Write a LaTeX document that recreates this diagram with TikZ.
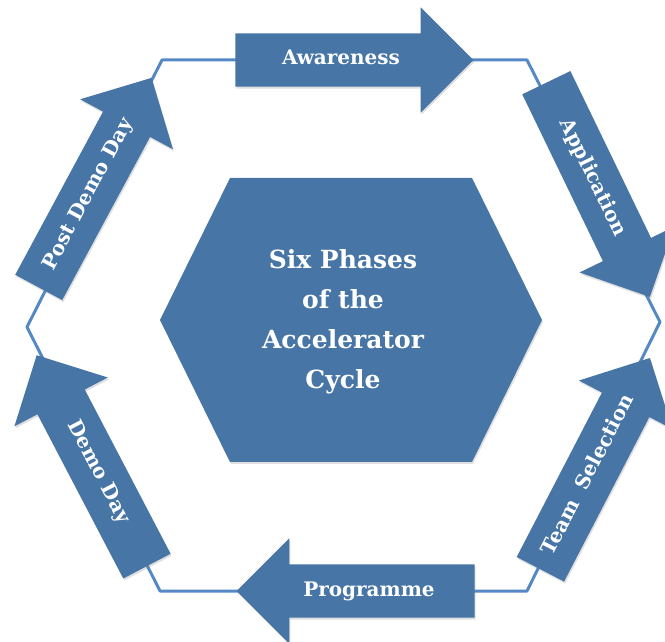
\documentclass[tikz,border=0pt]{standalone}
\usepackage{fontspec}
\setmainfont{DejaVu Serif}
\usetikzlibrary{shapes.arrows,shadows}
\definecolor{phaseblue}{RGB}{70,117,166}
\definecolor{ringblue}{RGB}{84,137,198}
\tikzset{
  phase/.style={single arrow, fill=phaseblue, text=white,
    font=\bfseries\fontsize{20}{24}\selectfont,
    minimum height=238pt, single arrow head extend=26pt,
    text height=14pt, text depth=4pt, inner ysep=17.5pt, inner xsep=0pt,
    drop shadow={shadow xshift=1pt,shadow yshift=-2pt,opacity=.25}},
  back/.style={shape border rotate=180},
}
\begin{document}
\begin{tikzpicture}[x=1pt,y=1pt]
\useasboundingbox (0,0) rectangle (665,641);
% ring the phases run along
\coordinate (r1) at (162,581);
\coordinate (r2) at (527,581);
\coordinate (r3) at (660,319);
\coordinate (r4) at (527,50);
\coordinate (r5) at (160,50);
\coordinate (r6) at (27,314);
\draw[ringblue,line width=3pt,line join=round] (r1) -- (r2) -- (r3) -- (r4) -- (r5) -- (r6) -- cycle;
% hub
\fill[phaseblue,drop shadow={shadow xshift=1pt,shadow yshift=-2pt,opacity=.25}]
  (230,463) -- (472,463) -- (542,321) -- (472,179) -- (230,179) -- (160,321) -- cycle;
\node[text=white,align=center,font=\bfseries\fontsize{25}{40}\selectfont] (hub) at (343,319)
  {Six Phases\\of the\\Accelerator\\Cycle};
% the six phases
\node[phase] (aware) at (341,581) {Awareness};
\node[phase,rotate=-64.2] (appl) at (592.3,463.2) {Application};
\node[phase,rotate=62.6] (team) at (589,165.5) {Team\ \ Selection};
\node[phase,back] (prog) at (369,50) {Programme};
\node[phase,back,rotate=-62.4] (demo) at (98,168.5) {Demo Day};
\node[phase,rotate=61.7] (post) at (88.8,446.6) {Post Demo Day};
\end{tikzpicture}
\end{document}
